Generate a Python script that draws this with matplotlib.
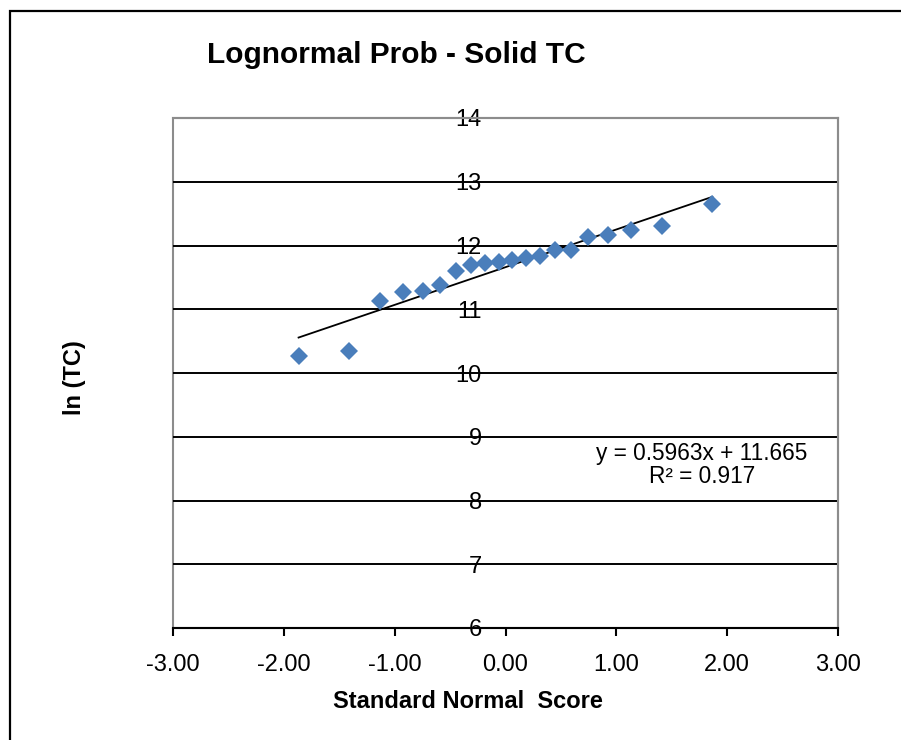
import numpy as np
import matplotlib
matplotlib.use("Agg")
import matplotlib.pyplot as plt
from matplotlib.patches import Rectangle

plt.rcParams["font.family"] = ["Liberation Sans", "DejaVu Sans"]

# normal scores (n = 20) and ln(TC) values
scores = [-1.867, -1.408, -1.131, -0.921, -0.745, -0.590, -0.448, -0.315, -0.187, -0.062,
          0.062, 0.187, 0.315, 0.448, 0.590, 0.745, 0.921, 1.131, 1.408, 1.867]
ln_tc = [10.27, 10.35, 11.13, 11.27, 11.28, 11.38, 11.60, 11.69, 11.72, 11.74,
         11.77, 11.81, 11.84, 11.93, 11.93, 12.13, 12.16, 12.24, 12.31, 12.65]

x_ticks = [-3, -2, -1, 0, 1, 2, 3]
y_ticks = [6, 7, 8, 9, 10, 11, 12, 13, 14]
title = "Lognormal Prob - Solid TC"
eq_text = "y = 0.5963x + 11.665\nR² = 0.917"

fig = plt.figure(figsize=(9.01, 7.40), dpi=100)
ax = fig.add_axes([173 / 901, 1 - 628 / 740, 665 / 901, 510 / 740])

# outer chart border
fig.patches.append(Rectangle((10 / 901, -0.05), 1.0, 1 - 11 / 740 + 0.05,
                             transform=fig.transFigure, fill=False,
                             edgecolor="black", linewidth=1.6))

ax.set_xlim(-3, 3)
ax.set_ylim(6, 14)

# horizontal gridlines (inner ones only)
ax.hlines(y_ticks[1:-1], -3, 3, color="black", linewidth=1.4, zorder=1)

# trendline from least squares fit
coef = np.polyfit(scores, ln_tc, 1)
xs = np.array([min(scores), max(scores)])
ax.plot(xs, np.polyval(coef, xs), color="black", linewidth=1.3, zorder=2)

ax.plot(scores, ln_tc, "D", color="#4A7EBB", markersize=9.5, markeredgewidth=0, zorder=3)

ax.text(1.77, 8.55, eq_text, ha="center", va="center", fontsize=16.3, linespacing=1.0)

# plot area border in gray, x axis in black
for s in ["top", "right"]:
    ax.spines[s].set_color("#8c8c8c")
    ax.spines[s].set_linewidth(1.5)
ax.spines["bottom"].set_color("black")
ax.spines["bottom"].set_linewidth(1.5)
ax.spines["bottom"].set_zorder(4)
ax.spines["left"].set_position(("data", 0))
ax.spines["left"].set_color("none")
ax.add_patch(Rectangle((0, 0), 1, 1, transform=ax.transAxes, fill=False,
                       edgecolor="#8c8c8c", linewidth=1.5, zorder=0.5, clip_on=False))

ax.set_xticks(x_ticks)
ax.set_xticklabels(["%.2f" % v for v in x_ticks])
ax.set_yticks(y_ticks)
ax.set_yticklabels([str(v) for v in y_ticks])
ax.tick_params(axis="x", length=6, width=1.5, color="black", labelsize=17, pad=12.5)
ax.tick_params(axis="y", length=0, labelsize=17, pad=17)

ax.set_xlabel("Standard Normal  Score", fontsize=17, fontweight="bold", va="center")
ax.xaxis.set_label_coords((468 - 173) / 665, (628 - 701) / 510)
fig.text(74 / 901, 1 - 378 / 740, "ln (TC)", rotation=90, fontsize=17,
         fontweight="bold", ha="center", va="center")
fig.text(396 / 901, 1 - 55 / 740, title, fontsize=21.5, fontweight="bold",
         ha="center", va="center")

fig.savefig("out.png", dpi=100)
